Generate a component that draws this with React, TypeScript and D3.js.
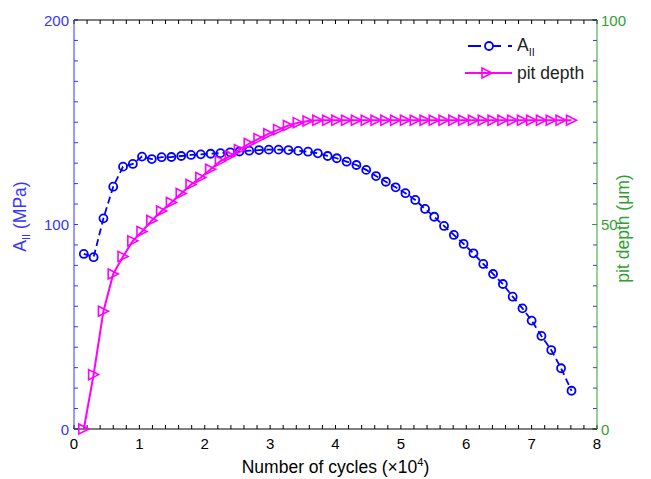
import React from 'react';
import * as d3 from 'd3';

// cycles in units of 1e4
const cycles = [0.15, 0.30, 0.45, 0.60, 0.75, 0.90, 1.04, 1.19, 1.34, 1.49, 1.64, 1.79, 1.94, 2.09, 2.24, 2.39, 2.53,
  2.68, 2.83, 2.98, 3.13, 3.28, 3.43, 3.58, 3.73, 3.88, 4.02, 4.17, 4.32, 4.47, 4.62, 4.77, 4.92, 5.07, 5.22, 5.37,
  5.51, 5.66, 5.81, 5.96, 6.11, 6.26, 6.41, 6.56, 6.71, 6.86, 7.00, 7.15, 7.30, 7.45, 7.61];

// A_II (MPa), left axis
const aII = [85.6, 84.0, 103.0, 118.5, 128.3, 129.6, 133.2, 132.0, 132.9, 133.0, 133.5, 134.0, 134.3, 134.6, 134.9,
  135.3, 135.7, 136.1, 136.4, 136.6, 136.6, 136.4, 136.0, 135.6, 134.8, 133.5, 132.4, 130.7, 129.1, 126.7, 123.7,
  120.9, 118.2, 115.3, 112.0, 107.6, 103.8, 99.3, 94.9, 90.5, 85.9, 80.7, 75.8, 70.9, 64.7, 59.0, 53.0, 45.5, 38.6,
  29.7, 18.7];

// pit depth (um), right axis
const pitDepth = [0, 13.3, 28.8, 37.9, 42.2, 46.0, 48.3, 51.0, 53.3, 55.4, 57.6, 59.8, 61.5, 63.5, 65.5, 66.8, 68.3,
  69.8, 71.0, 72.2, 73.2, 74.2, 74.9, 75.3, 75.5, 75.5, 75.5, 75.5, 75.5, 75.5, 75.5, 75.5, 75.5, 75.5, 75.5, 75.5,
  75.5, 75.5, 75.5, 75.5, 75.5, 75.5, 75.5, 75.5, 75.5, 75.5, 75.5, 75.5, 75.5, 75.5, 75.5];

const xTicks = [0, 1, 2, 3, 4, 5, 6, 7, 8];
const leftTicks = [0, 100, 200];
const rightTicks = [0, 50, 100];

const W = 651, H = 479;
const m = { left: 74, right: 54, top: 20, bottom: 50 };
const BLUE = '#0000ff', AXBLUE = '#3535ff', GREEN = '#2f9f2f', PINK = '#ff00ff';
const FONT = '"Liberation Sans", Arial, sans-serif';

const tri = (s: number) => `M${-s},${-s}L${s},0L${-s},${s}Z`;

export default function App() {
  const x = d3.scaleLinear().domain([0, 8]).range([m.left, W - m.right]);
  const yL = d3.scaleLinear().domain([0, 200]).range([H - m.bottom, m.top]);
  const yR = d3.scaleLinear().domain([0, 100]).range([H - m.bottom, m.top]);
  const x0 = m.left, x1 = W - m.right, y0 = H - m.bottom, y1 = m.top;

  const idx = d3.range(cycles.length);
  const lineA = d3.line<number>().x(i => x(cycles[i])).y(i => yL(aII[i]))(idx) || '';
  const lineP = d3.line<number>().x(i => x(cycles[i])).y(i => yR(pitDepth[i]))(idx) || '';

  return (
    <svg width={W} height={H} style={{ position: 'absolute', left: 0, top: 0, background: '#fff' }} fontFamily={FONT}>
      <rect width={W} height={H} fill="#fff" />

      {/* x ticks bottom and top */}
      {x.ticks(40).map(t => (
        <g key={'xt' + t} stroke="#000" strokeWidth={1}>
          <line x1={x(t)} x2={x(t)} y1={y0} y2={y0 - 4} />
          <line x1={x(t)} x2={x(t)} y1={y1} y2={y1 + 4} />
        </g>
      ))}
      {/* left ticks + mirrored on right */}
      {yL.ticks(20).map(t => (
        <g key={'yt' + t} stroke={AXBLUE} strokeWidth={1}>
          <line x1={x0} x2={x0 + 4} y1={yL(t)} y2={yL(t)} />
          <line x1={x1} x2={x1 - 4} y1={yL(t)} y2={yL(t)} />
        </g>
      ))}
      {rightTicks.map(t => (
        <line key={'rt' + t} x1={x1 - 5} x2={x1} y1={yR(t)} y2={yR(t)} stroke={GREEN} />
      ))}

      {/* axis lines */}
      <line x1={x0} x2={x1} y1={y0} y2={y0} stroke="#000" />
      <line x1={x0} x2={x1} y1={y1} y2={y1} stroke="#000" />
      <line x1={x0} x2={x0} y1={y1} y2={y0} stroke={AXBLUE} />
      <line x1={x1} x2={x1} y1={y1} y2={y0} stroke={GREEN} />

      {/* tick labels */}
      {xTicks.map(t => (
        <text key={'xl' + t} x={x(t)} y={449} fontSize={15} textAnchor="middle" fill="#000">{t}</text>
      ))}
      {leftTicks.map(t => (
        <text key={'ll' + t} x={x0 - 5} y={yL(t) + 5.5} fontSize={15} textAnchor="end" fill={AXBLUE}>{t}</text>
      ))}
      {rightTicks.map(t => (
        <text key={'rl' + t} x={x1 + 4} y={yR(t) + 5.5} fontSize={15} textAnchor="start" fill={GREEN}>{t}</text>
      ))}

      {/* axis titles */}
      <text x={(x0 + x1) / 2} y={472.5} fontSize={17.5} textAnchor="middle" fill="#000">
        Number of cycles (×10<tspan fontSize={11} dy={-7}>4</tspan><tspan dy={7}>)</tspan>
      </text>
      <text transform={`translate(26,${(y0 + y1) / 2 - 8}) rotate(-90)`} fontSize={17.5} textAnchor="middle" fill={AXBLUE}>
        A<tspan fontSize={11} dy={4}>II</tspan><tspan dy={-4}> (MPa)</tspan>
      </text>
      <text transform={`translate(629,${(y0 + y1) / 2 + 4}) rotate(-90)`} fontSize={17.5} textAnchor="middle" fill={GREEN}>
        pit depth (μm)
      </text>

      {/* A_II series */}
      <path d={lineA} fill="none" stroke={BLUE} strokeWidth={1.8} strokeDasharray="7,4" />
      {idx.map(i => (
        <circle key={'c' + i} cx={x(cycles[i])} cy={yL(aII[i])} r={4} fill="none" stroke={BLUE} strokeWidth={1.8} />
      ))}

      {/* pit depth series */}
      <path d={lineP} fill="none" stroke={PINK} strokeWidth={2} />
      {idx.map(i => (
        <path key={'p' + i} d={tri(5)} transform={`translate(${x(cycles[i])},${yR(pitDepth[i])})`}
          fill="none" stroke={PINK} strokeWidth={1.6} />
      ))}

      {/* legend */}
      <g>
        <line x1={468} x2={512} y1={46} y2={46} stroke={BLUE} strokeWidth={1.8} strokeDasharray="13,7" />
        <circle cx={489} cy={46} r={4} fill="#fff" stroke={BLUE} strokeWidth={1.8} />
        <text x={517} y={51} fontSize={17.5} fill="#222">A<tspan fontSize={11} dy={5}>II</tspan></text>
        <line x1={465} x2={512} y1={73} y2={73} stroke={PINK} strokeWidth={2} />
        <path d={tri(5)} transform="translate(487,73)" fill="none" stroke={PINK} strokeWidth={1.6} />
        <text x={517} y={79} fontSize={17.5} fill="#222">pit depth</text>
      </g>
    </svg>
  );
}
